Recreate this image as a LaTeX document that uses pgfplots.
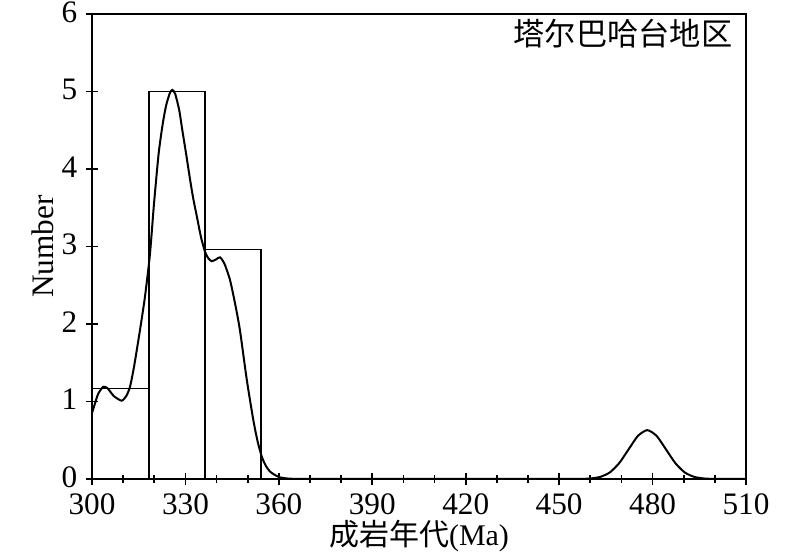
\documentclass[border=0pt]{standalone}
\usepackage{fontspec}
\setmainfont{Liberation Serif}
\newfontfamily\cjk{Noto Sans CJK SC}
\usepackage{pgfplots}
\pgfplotsset{compat=1.18}

\begin{document}
\fontsize{12.5}{14}\selectfont
\begin{tikzpicture}
\begin{axis}[
    scale only axis,
    width=261.6pt, height=186pt,
    xmin=300, xmax=510,
    ymin=0, ymax=6,
    xtick={300,330,...,510},
    ytick={0,1,...,6},
    minor x tick num=2,
    axis line style={line width=0.8pt},
    tick style={line width=0.7pt, black},
    tick align=center,
    major tick length=5pt,
    minor tick length=3pt,
    xtick pos=bottom, ytick pos=left,
    /pgf/number format/assume math mode=true,
    xticklabel style={yshift=0.8pt},
    yticklabel style={xshift=1pt, yshift=0.8pt},
    xlabel={{\cjk 成岩年代}(Ma)},
    ylabel={Number},
    xlabel style={at={(rel axis cs:0.5,-0.122)}, anchor=center, inner sep=0pt, font=\fontsize{12}{13}\selectfont},
    ylabel style={yshift=-5.5pt},
    clip=false,
]
% histogram bars
\addplot[black, line width=0.6pt] coordinates {(300,0) (300,1.17) (318.3,1.17) (318.3,0)};
\addplot[black, line width=0.6pt] coordinates {(318.3,0) (318.3,5.0) (336.3,5.0) (336.3,0)};
\addplot[black, line width=0.6pt] coordinates {(336.3,0) (336.3,2.96) (354.3,2.96) (354.3,0)};
% density curve
\addplot[black, line width=0.8pt, smooth, tension=0.4] coordinates {
(300,0.85) (301,0.98) (302,1.10) (303.6,1.19) (305,1.17) (307,1.07) (309.5,1.01)
(311,1.07) (312.2,1.19) (313.5,1.45) (315.4,1.92) (317,2.35) (318.6,2.90)
(319.9,3.55) (321.4,4.20) (322.7,4.58) (323.8,4.82) (325,4.98) (325.8,5.02)
(326.7,4.97) (328,4.76) (329,4.50) (330.2,4.20) (331.5,3.86) (332.5,3.62)
(333.6,3.40) (335,3.12) (336.3,2.93) (337.3,2.85) (338.4,2.81) (339.7,2.83)
(341.1,2.86) (342.5,2.78) (344.3,2.57) (346,2.25) (347.5,1.92) (349.7,1.28)
(351.8,0.76) (353.2,0.48) (354.5,0.29) (355.8,0.17) (357.2,0.094) (358.8,0.05)
(360.4,0.02) (363,0.005) (366,0)
};
\addplot[black, line width=0.8pt, smooth, tension=0.4] coordinates {
(366,0) (452,0) (457.3,0.001) (460.3,0.007) (463.3,0.028) (466.3,0.085)
(469.3,0.205) (472.3,0.382) (475.3,0.556) (478.3,0.63) (481.3,0.556)
(484.3,0.382) (487.3,0.205) (490.3,0.085) (493.3,0.028) (496.3,0.007)
(499.3,0.001) (505,0) (510,0)
};
\node[anchor=east, inner sep=0pt] at (rel axis cs:0.98,0.957) {\cjk 塔尔巴哈台地区};
\coordinate (bl) at (rel axis cs:-0.1407,-0.157);
\coordinate (tr) at (rel axis cs:1.0826,1.0301);
\end{axis}
\pgfresetboundingbox
\path (bl) rectangle (tr);
\end{tikzpicture}
\end{document}
